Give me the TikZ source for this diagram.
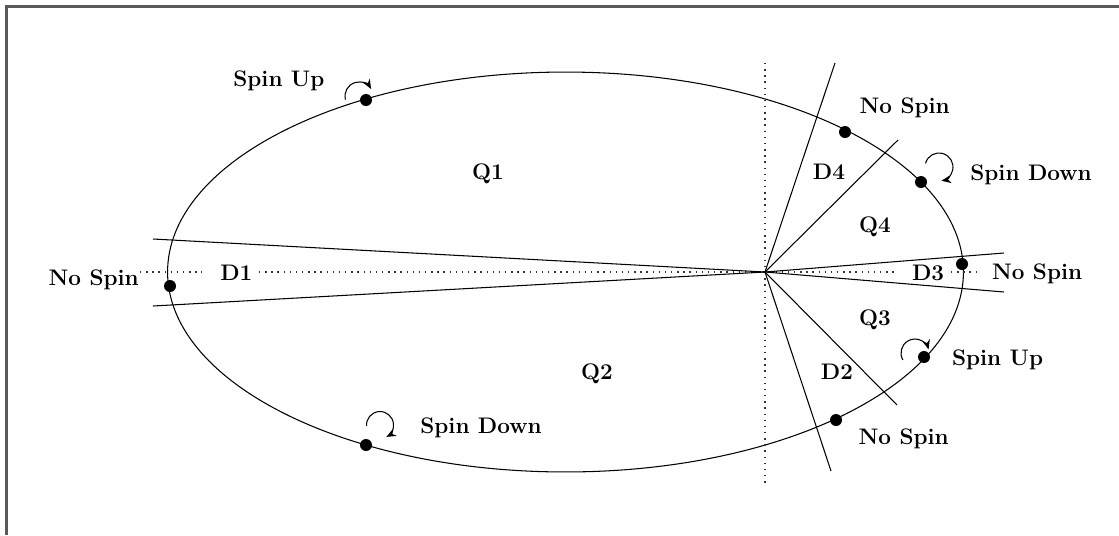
\documentclass[tikz,border=0pt]{standalone}
\usetikzlibrary{calc,arrows.meta}
\begin{document}
\begin{tikzpicture}[x=0.02cm,y=-0.02cm,
  lab/.style={font=\fontsize{12.8}{15}\selectfont\bfseries, inner sep=0pt},
  dot/.style={circle,fill=black,inner sep=0pt,minimum size=0.24cm},
  ln/.style={line width=0.6pt},
  dotln/.style={line width=0.8pt, black!80, dash pattern=on 0.8pt off 2.7pt},
  spin/.style={line width=0.6pt,-{Stealth[length=5.5pt,width=4.5pt]}}]
\useasboundingbox (0,0) rectangle (1119,535);
\draw[black!65,line width=1.2pt] (1119,6.5) -- (6.5,6.5) -- (6.5,535);

% ellipse
\coordinate (C) at (565.5,272);
\coordinate (H) at (765,272);
\draw[ln] (C) ellipse [x radius=7.96cm, y radius=4cm];

% dotted axes
\coordinate (hl) at (140,272);
\coordinate (hr) at (978,272);
\coordinate (vt) at (765,63);
\coordinate (vb) at (765,486);
\draw[dotln] (hl) -- (202,272);
\draw[dotln] (259,272) -- (895,272);
\draw[dotln] (951,272) -- (hr);
\draw[dotln] (vt) -- (vb);

% wedge lines
\coordinate (d1u) at (153,239);
\coordinate (d1l) at (153,306);
\coordinate (d3u) at (1004,253);
\coordinate (d3l) at (1004,292);
\coordinate (d4s) at (835,63);
\coordinate (d4d) at (898,140);
\coordinate (d2s) at (831,471);
\coordinate (d2d) at (897,405);
\foreach \e in {d1u,d1l,d3u,d3l,d4s,d4d,d2s,d2d}
  \draw[ln] (H) -- (\e);

% dots
\node[dot] (p1) at (366,100) {};
\node[dot] (p2) at (366,445) {};
\node[dot] (p3) at (170,286) {};
\node[dot] (p4) at (845,132) {};
\node[dot] (p5) at (921,182) {};
\node[dot] (p6) at (962,264) {};
\node[dot] (p7) at (924,357) {};
\node[dot] (p8) at (836,420) {};

% spin arrows
\coordinate (a1) at (359,96);
\coordinate (a2) at (380,425);
\coordinate (a3) at (939,167);
\coordinate (a4) at (915,353);
\draw[spin] ($(a1)+(195:0.28cm)$) arc[start angle=195, end angle=30, radius=0.28cm];
\draw[spin] ($(a2)+(185:0.27cm)$) arc[start angle=185, end angle=-62, radius=0.27cm];
\draw[spin] ($(a3)+(165:0.28cm)$) arc[start angle=165, end angle=-80, radius=0.28cm];
\draw[spin] ($(a4)+(210:0.28cm)$) arc[start angle=210, end angle=15, radius=0.28cm];

% labels
\node[lab,anchor=base west] (t1) at (233,86.7) {Spin Up};
\node[lab,anchor=base west] (t2) at (420,433.3) {Spin Down};
\node[lab,anchor=base west] (t3) at (48.3,285.7) {No Spin};
\node[lab,anchor=base west] (t4) at (859.3,113.3) {No Spin};
\node[lab,anchor=base west] (t5) at (970,180) {Spin Down};
\node[lab,anchor=base west] (t6) at (991.7,279.3) {No Spin};
\node[lab,anchor=base west] (t7) at (951.7,365.7) {Spin Up};
\node[lab,anchor=base west] (t8) at (858.3,444) {No Spin};

\node[lab,anchor=base] (q1) at (488,179) {Q1};
\node[lab,anchor=base] (q2) at (597,379) {Q2};
\node[lab,anchor=base] (q3) at (875,325) {Q3};
\node[lab,anchor=base] (q4) at (875,232.7) {Q4};
\node[lab,anchor=base west] (dd1) at (220,280.7) {D1};
\node[lab,anchor=base] (dd2) at (837,379) {D2};
\node[lab,anchor=base west] (dd3) at (911.7,280) {D3};
\node[lab,anchor=base] (dd4) at (829,179) {D4};
\end{tikzpicture}
\end{document}
